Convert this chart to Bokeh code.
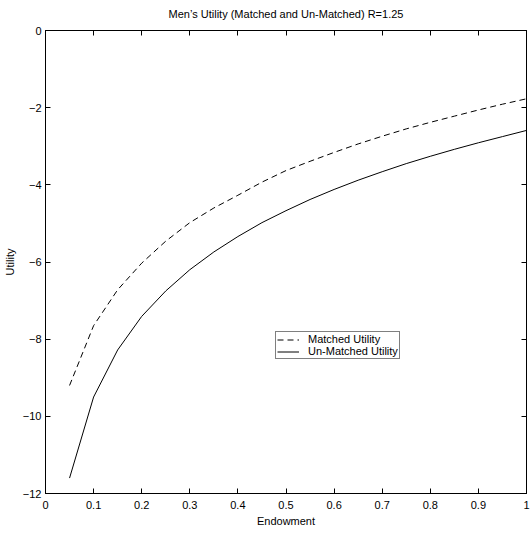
from bokeh.plotting import figure
from bokeh.models import LinearAxis, FixedTicker, Legend, LegendItem, Range1d, Title
from bokeh.embed import file_html
from bokeh.resources import INLINE

endowment = [0.05, 0.10, 0.15, 0.20, 0.25, 0.30, 0.35, 0.40, 0.45, 0.50,
             0.55, 0.60, 0.65, 0.70, 0.75, 0.80, 0.85, 0.90, 0.95, 1.00]
matched_utility = [-9.20, -7.65, -6.72, -6.03, -5.46, -4.98, -4.60, -4.27, -3.93, -3.63,
                   -3.39, -3.16, -2.94, -2.74, -2.55, -2.38, -2.22, -2.06, -1.91, -1.77]
unmatched_utility = [-11.60, -9.50, -8.28, -7.41, -6.75, -6.20, -5.74, -5.34, -4.98, -4.67,
                     -4.38, -4.12, -3.88, -3.66, -3.45, -3.26, -3.08, -2.91, -2.75, -2.59]
x_ticks = [0, 0.1, 0.2, 0.3, 0.4, 0.5, 0.6, 0.7, 0.8, 0.9, 1]
x_tick_labels = ["0", "0.1", "0.2", "0.3", "0.4", "0.5", "0.6", "0.7", "0.8", "0.9", "1"]
y_ticks = [-12, -10, -8, -6, -4, -2, 0]
y_tick_labels = ["\u221212", "\u221210", "\u22128", "\u22126", "\u22124", "\u22122", "0"]

FONT = "Liberation Sans"

p = figure(width=530, height=534, output_backend="svg", toolbar_location=None,
           x_range=Range1d(0, 1), y_range=Range1d(-12, 0),
           min_border_left=43, min_border_right=4, min_border_top=30, min_border_bottom=41)
p.xgrid.visible = False
p.ygrid.visible = False
p.outline_line_color = "black"
p.outline_line_width = 1
p.background_fill_color = "white"
p.border_fill_color = "white"

def style_axis(ax, show_labels=True):
    ax.axis_line_color = "black"
    ax.axis_line_width = 1
    ax.major_tick_in = 5
    ax.major_tick_out = 0
    ax.minor_tick_line_color = None
    ax.major_tick_line_color = "black"
    ax.major_label_text_font = FONT
    if show_labels:
        ax.major_label_text_font_size = "11px"
        ax.major_label_text_color = "black"
    else:
        ax.major_label_text_font_size = "1px"
        ax.major_label_text_color = None
    ax.axis_label_text_font = FONT
    ax.axis_label_text_font_size = "11px"
    ax.axis_label_text_font_style = "normal"
    ax.axis_label_text_color = "black"

xa = p.xaxis[0]
xa.ticker = FixedTicker(ticks=x_ticks)
xa.major_label_overrides = {t: l for t, l in zip(x_ticks, x_tick_labels)}
xa.axis_label = "Endowment"
xa.major_label_standoff = 7
xa.axis_label_standoff = 3
style_axis(xa)

ya = p.yaxis[0]
ya.ticker = FixedTicker(ticks=y_ticks)
ya.major_label_overrides = {t: l for t, l in zip(y_ticks, y_tick_labels)}
ya.axis_label = "Utility"
ya.major_label_standoff = 4
ya.axis_label_standoff = 4
style_axis(ya)

top = LinearAxis(ticker=FixedTicker(ticks=x_ticks), major_label_standoff=0)
style_axis(top, show_labels=False)
top.axis_label = " "
top.axis_label_standoff = 0
top.axis_label_text_font_size = "7px"
top.axis_label_text_color = None
p.add_layout(top, "above")
right = LinearAxis(ticker=FixedTicker(ticks=y_ticks), major_label_standoff=0)
style_axis(right, show_labels=False)
p.add_layout(right, "right")

title = Title(text="Men\u2019s Utility (Matched and Un-Matched) R=1.25", align="center",
              text_font=FONT, text_font_style="normal", text_font_size="11px",
              text_color="black", standoff=2)
p.add_layout(title, "above")

r_m = p.line(endowment, matched_utility, line_color="black", line_width=1, line_dash="6 4")
r_u = p.line(endowment, unmatched_utility, line_color="black", line_width=1)

legend = Legend(items=[LegendItem(label="Matched Utility", renderers=[r_m]),
                       LegendItem(label="Un-Matched Utility", renderers=[r_u])],
                location=(230, 134))
legend.label_text_font = FONT
legend.label_text_font_size = "11px"
legend.label_text_color = "black"
legend.label_height = 11
legend.glyph_height = 11
legend.glyph_width = 22
legend.spacing = 0
legend.padding = 1
legend.margin = 0
legend.label_standoff = 9
legend.border_line_color = "black"
legend.border_line_width = 1
legend.background_fill_color = "white"
legend.background_fill_alpha = 1
p.add_layout(legend, "center")

open("out.html", "w").write(file_html(p, INLINE))
